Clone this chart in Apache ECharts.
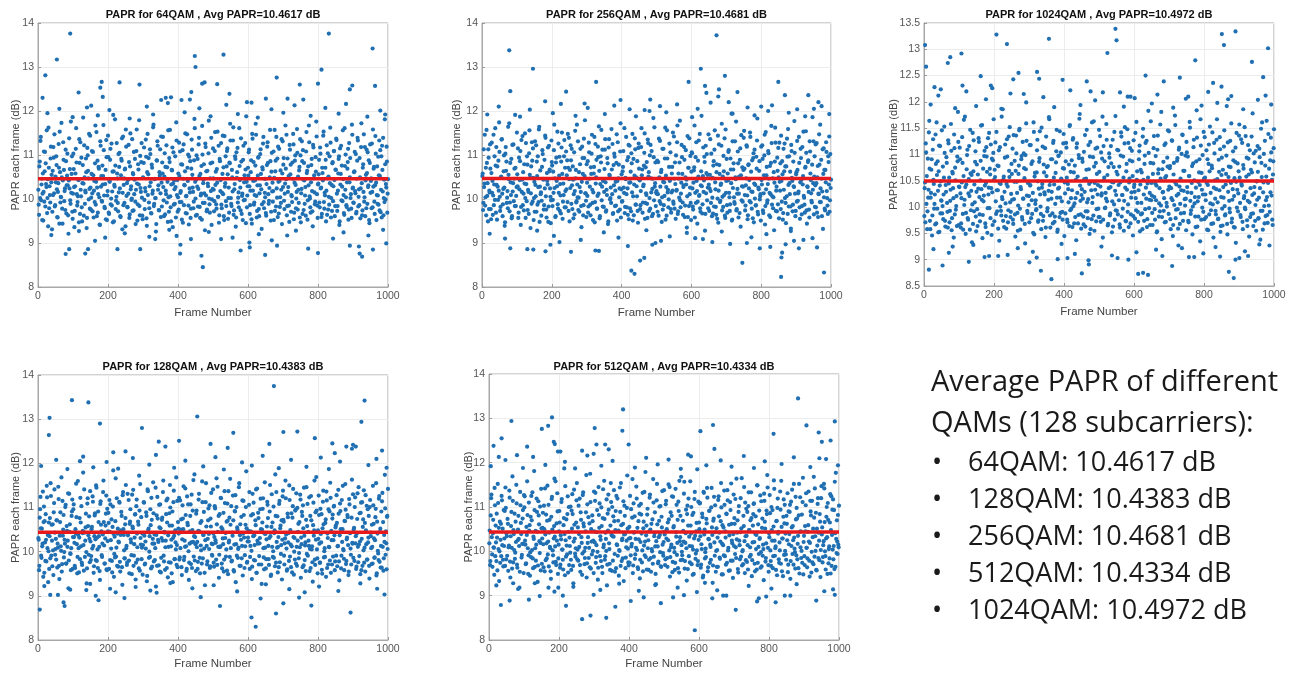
<!DOCTYPE html>
<html><head><meta charset="utf-8">
<script src="https://cdn.jsdelivr.net/npm/echarts@6/dist/echarts.min.js"></script>
<style>html,body{margin:0;padding:0;background:#fff}#c{width:1295px;height:673px}</style>
</head><body><div id="c"></div>
<script>
// ---------------- data ----------------
const frameTicks = [0, 200, 400, 600, 800, 1000];
const qamNames = ['64QAM', '256QAM', '1024QAM', '128QAM', '512QAM'];
const avgPapr = [10.4617, 10.4681, 10.4972, 10.4383, 10.4334];
const summaryTitle = ['Average PAPR of different', 'QAMs (128 subcarriers):'];
const summaryItems = ['64QAM: 10.4617 dB', '128QAM: 10.4383 dB', '256QAM: 10.4681 dB', '512QAM: 10.4334 dB', '1024QAM: 10.4972 dB'];

// PAPR (dB) of odd frames 1,3,...,999 and even frames 2,4,...,1000
const odd64 = [
10.21,9.64,10.85,11.32,9.97,10.46,10.12,9.51,11.08,10.63,9.83,10.34,11.56,10.02,9.38,10.71,10.29,9.92,11.19,10.55,9.71,10.09,10.94,11.47,9.86,
10.38,10.77,9.59,10.16,11.25,9.44,10.61,10.05,11.73,9.78,10.42,10.89,9.95,10.24,11.12,9.67,10.53,10.31,9.21,11.38,10.68,9.89,10.14,10.97,9.55,
11.03,10.27,9.73,10.58,11.61,10.11,9.93,10.44,9.47,10.82,11.29,10.06,9.81,10.36,11.85,9.62,10.49,10.19,10.92,9.34,11.16,10.64,9.99,10.23,11.44,
9.76,10.57,10.13,11.07,9.58,10.41,10.81,9.87,11.52,10.26,9.69,10.73,10.04,9.41,11.21,10.52,9.94,10.33,11.68,10.08,9.79,10.66,11.34,9.52,10.18,
10.95,9.66,10.39,11.14,10.01,9.85,10.62,11.91,9.49,10.28,10.76,9.96,11.27,10.47,9.72,10.15,11.05,9.61,10.54,10.87,9.31,11.42,10.32,9.91,10.69,
11.58,10.07,9.82,10.43,11.23,9.57,10.74,10.22,9.98,11.36,10.59,9.74,10.11,10.91,9.43,11.09,10.35,9.88,10.67,11.79,9.63,10.25,10.84,10.03,9.54,
10.48,11.17,9.77,10.17,10.96,9.39,11.48,10.56,9.92,10.29,11.02,9.68,10.78,10.12,11.63,9.84,10.45,10.02,9.26,10.88,11.31,10.21,9.75,10.61,11.13,
9.59,10.37,10.83,11.41,9.97,10.51,9.65,10.19,11.22,10.72,9.48,10.04,10.93,11.57,9.81,10.33,10.65,9.36,11.06,10.42,9.89,10.27,11.74,10.09,9.71,
10.58,11.28,9.93,10.14,10.79,9.53,11.11,10.46,9.86,10.31,11.49,10.06,9.67,10.71,11.01,9.42,10.24,10.86,9.78,11.35,10.55,10.16,9.94,11.82,10.39,
9.62,10.99,10.28,9.83,11.24,10.52,9.57,10.08,10.75,11.66,9.91,10.44,10.13,9.29,11.18,10.63,9.76,10.35,11.04,10.01,9.69,10.81,11.39,9.99,10.23,
10.47,9.72,11.09,10.32,9.88,10.68,11.53,10.05,9.46,10.91,10.18,11.27,9.79,10.57,10.11,9.61,11.43,10.36,9.95,10.74,11.15,9.55,10.26,10.83,11.71,
10.02,9.84,10.49,11.33,9.64,10.22,10.97,9.37,11.06,10.61,9.92,10.15,11.61,10.43,9.74,10.85,10.07,9.52,11.21,10.38,9.98,10.67,11.88,9.81,10.29,
10.53,11.12,9.66,10.19,10.88,9.44,11.37,10.41,9.87,10.09,10.76,11.46,9.58,10.31,10.94,9.77,10.13,11.02,10.57,9.32,10.72,11.26,9.93,10.46,10.04,
9.68,10.34,11.19,10.82,9.89,10.25,11.57,9.51,10.62,10.17,9.94,11.08,10.48,9.73,10.87,11.41,10.03,9.59,10.39,11.14,9.82,10.65,10.21,9.43,11.31,
10.78,9.96,10.12,11.67,10.45,9.63,10.92,10.27,9.85,11.23,10.56,9.71,10.06,10.83,11.48,9.54,10.37,10.99,9.79,10.16,11.05,10.51,9.91,10.73,11.36,
9.47,10.23,10.86,11.11,9.75,10.42,10.08,9.62,11.52,10.64,9.97,10.31,11.29,10.01,9.69,10.77,10.18,9.38,11.17,10.54,9.88,10.95,11.76,10.11,9.57,
10.35,10.89,9.81,11.03,10.26,9.66,10.59,11.44,9.93,10.14,10.71,9.49,11.22,10.47,9.76,10.05,10.97,11.62,9.58,10.32,10.81,9.95,11.09,10.43,9.84,
10.66,11.34,9.73,10.19,10.91,9.41,11.15,10.57,9.97,10.28,11.56,10.09,9.64,10.75,11.01,9.86,10.38,10.84,9.53,11.27,10.49,10.02,9.78,11.69,10.24,
9.92,10.61,11.07,10.13,9.67,10.46,11.39,9.83,10.22,10.93,9.56,11.18,10.36,9.74,10.79,11.47,10.04,9.61,10.55,11.12,9.89,10.27,10.88,9.45,11.24,
10.41,9.79,10.16,11.58,10.69,9.94,10.31,11.03,9.52,10.74,10.08,9.87,11.33,10.52,9.7,10.97,11.21,10.17,9.63,10.44,11.81,9.99,10.26,10.85,10.12
];
const even64 = [
9.87,10.74,10.02,11.41,10.33,9.52,10.58,10.16,9.94,11.07,10.81,10.27,9.68,10.45,11.62,9.79,10.09,10.92,10.38,9.31,10.64,11.18,10.13,9.83,10.51,
10.97,10.22,9.58,10.36,10.71,11.53,9.92,10.04,10.49,9.44,11.29,10.66,10.18,9.75,10.86,10.31,11.03,9.63,10.42,10.24,9.97,11.76,10.57,9.71,10.12,
10.68,9.36,10.29,11.14,10.83,9.85,10.06,10.43,11.36,9.66,10.21,10.94,9.49,10.77,10.35,11.22,9.89,10.15,10.61,9.57,10.99,10.47,11.48,9.78,10.26,
10.03,11.09,9.72,10.54,10.19,9.93,11.67,10.39,9.61,10.87,10.11,10.69,9.42,11.31,10.28,9.96,10.76,10.52,11.11,9.82,10.34,9.54,10.95,10.08,11.44,
9.69,10.41,10.89,9.88,11.26,10.17,9.47,10.63,10.32,11.81,9.77,10.05,10.58,9.91,11.02,10.73,10.24,9.59,10.91,11.38,10.14,9.86,10.47,10.67,9.38,
11.19,10.36,9.81,10.12,10.84,9.65,11.49,10.29,10.01,9.73,10.56,11.07,10.44,9.94,10.21,11.58,9.51,10.79,10.33,9.84,10.98,10.16,11.27,9.62,10.49,
10.82,9.98,10.25,11.35,9.56,10.61,10.09,10.93,9.79,11.13,10.38,9.67,10.71,10.19,11.69,9.89,10.46,10.02,9.43,10.87,11.21,10.31,9.74,10.53,10.13,
11.42,9.83,10.58,10.27,9.61,11.04,10.73,10.11,9.92,10.39,11.56,9.71,10.84,10.06,9.49,10.66,11.17,10.35,9.87,10.22,10.97,9.58,11.33,10.43,10.04,
9.76,10.52,11.08,10.18,9.93,10.78,9.46,11.24,10.32,10.63,9.68,10.07,11.47,10.41,9.85,10.96,10.15,9.57,10.69,11.12,10.26,9.79,10.88,11.61,10.01,
10.44,9.64,10.91,10.23,11.39,9.82,10.57,10.12,9.53,11.01,10.36,10.79,9.91,11.26,10.08,9.72,10.64,10.29,11.78,9.88,10.47,10.18,9.41,10.83,11.15,
10.21,9.95,11.52,10.62,9.78,10.37,10.05,11.21,9.63,10.86,10.43,9.87,10.14,11.44,10.72,9.52,10.28,10.97,9.84,11.09,10.56,10.02,9.69,10.81,11.33,
9.89,10.66,10.17,11.63,9.74,10.34,10.91,9.58,10.48,11.16,10.03,9.81,10.75,10.26,11.38,9.66,10.12,10.89,9.97,10.54,11.27,9.45,10.39,10.08,10.71,
11.06,10.29,9.86,10.61,9.54,11.48,10.19,10.84,9.92,10.42,11.71,10.07,9.73,10.53,10.95,9.61,10.31,11.13,10.22,9.88,10.67,11.41,9.79,10.14,10.46,
9.62,10.77,11.29,10.11,9.96,10.49,10.86,9.71,11.05,10.37,10.18,9.52,11.57,10.63,9.83,10.24,10.92,11.19,9.67,10.41,10.04,9.91,11.36,10.58,10.27,
10.93,9.77,10.35,10.69,11.46,9.84,10.16,10.52,9.48,11.12,10.78,10.09,9.93,10.46,11.24,9.69,10.87,10.32,10.01,11.59,9.76,10.21,10.65,9.58,10.99,
10.13,11.31,9.66,10.44,10.82,9.89,10.27,11.08,10.59,9.53,10.74,11.67,10.06,9.81,10.38,10.91,9.72,11.23,10.47,10.15,9.94,10.62,11.42,9.85,10.33,
10.56,9.92,11.17,10.24,9.59,10.71,10.42,11.53,9.78,10.08,10.89,10.19,9.64,11.04,10.51,9.87,10.36,11.28,10.02,9.73,10.84,10.29,11.09,9.61,10.67,
11.37,10.12,9.84,10.58,10.97,9.49,10.33,11.21,10.76,9.95,10.45,9.68,11.61,10.21,10.04,9.82,10.69,11.14,9.76,10.38,10.93,10.11,9.57,11.46,10.26,
9.91,10.63,10.18,11.02,9.71,10.87,11.33,10.05,9.86,10.49,10.24,11.72,9.63,10.71,10.16,9.94,11.18,10.42,9.79,10.59,11.06,10.31,9.52,10.82,10.14,
10.47,11.26,9.81,10.28,10.73,9.66,11.43,10.37,10.09,9.89,10.96,10.54,9.74,11.11,10.21,9.58,10.66,11.39,10.02,9.93,10.79,10.34,11.19,9.69,10.45
];
const extremes64 = [
[13,12.30],[21,12.81],[54,13.17],[92,13.76],[116,12.42],[140,12.08],[178,12.53],[182,12.66],[185,12.32],[233,12.65],[290,12.6],[352,12.25],
[365,12.3],[380,12.31],[410,12.25],[434,12.26],[438,12.43],[448,13.25],[450,13.0],[469,12.62],[476,12.65],[512,12.61],[530,13.28],[547,12.39],
[610,12.19],[651,12.28],[682,12.76],[713,12.28],[748,12.6],[758,12.26],[800,12.62],[810,12.94],[831,13.76],[891,12.49],[898,12.58],[956,13.42],[963,12.57],
[79,8.75],[89,8.86],[135,8.76],[143,8.86],[192,9.12],[227,8.86],[292,8.86],[335,9.09],[396,9.16],[406,8.76],[407,8.96],[467,8.71],[471,8.45],
[523,9.09],[579,8.83],[604,9.01],[605,8.9],[649,8.73],[683,8.94],[712,9.17],[772,8.87],[800,8.77],[891,8.94],[917,8.92],[919,8.76],[926,8.69],[957,8.85],[995,8.99]
];
const tail64 = [
[27,11.95],[61,12.05],[99,11.86],[152,12.12],[171,11.9],[204,12.02],[262,11.83],[311,12.1],[329,11.92],[371,12.18],[419,11.97],[461,12.06],[493,11.88],
[538,12.14],[571,11.93],[597,12.2],[628,11.85],[667,12.04],[701,11.96],[733,12.13],[779,11.89],[821,12.07],[859,11.94],[880,12.16],[941,11.87],[978,12.01],[992,11.92],
[38,9.18],[117,9.27],[163,9.05],[248,9.22],[318,9.14],[375,9.3],[437,9.09],[488,9.25],[556,9.12],[631,9.2],[668,9.06],[737,9.28],[843,9.1],[873,9.24],[944,9.17],[986,9.3]
];

const odd256 = [
10.52,9.75,11.13,10.35,9.85,10.71,11.57,10.07,9.49,10.94,10.19,11.24,9.77,10.59,10.14,9.64,11.46,10.33,9.98,10.76,11.18,9.53,10.28,10.87,11.74,
10.05,9.82,10.51,11.36,9.61,10.23,10.99,9.39,11.03,10.64,9.91,10.18,11.64,10.45,9.72,10.82,10.09,9.56,11.23,10.36,9.95,10.69,11.91,9.84,10.27,
10.56,11.15,9.69,10.22,10.86,9.41,11.34,10.44,9.86,10.12,10.79,11.49,9.57,10.34,10.97,9.75,10.16,11.04,10.55,9.34,10.74,11.29,9.94,10.48,10.02,
9.71,10.32,11.22,10.85,9.87,10.27,11.58,9.48,10.65,10.15,9.96,11.11,10.46,9.76,10.89,11.44,10.06,9.58,10.41,11.17,9.83,10.63,10.24,9.45,11.33,
10.76,9.98,10.14,11.69,10.47,9.61,10.94,10.29,9.88,11.26,10.53,9.73,10.08,10.85,11.51,9.55,10.35,10.97,9.81,10.18,11.08,10.54,9.93,10.71,11.39,
9.49,10.25,10.88,11.14,9.77,10.44,10.11,9.65,11.55,10.66,9.95,10.33,11.31,10.03,9.71,10.79,10.16,9.36,11.19,10.57,9.86,10.93,11.79,10.13,9.59,
10.37,10.86,9.83,11.06,10.28,9.63,10.57,11.46,9.91,10.15,10.73,9.47,11.25,10.49,9.78,10.07,10.95,11.65,9.56,10.34,10.83,9.97,11.12,10.41,9.82,
10.68,11.36,9.71,10.21,10.93,9.43,11.17,10.55,9.99,10.26,11.59,10.11,9.66,10.77,11.03,9.84,10.39,10.82,9.51,11.29,10.47,10.04,9.76,11.72,10.22,
9.94,10.63,11.09,10.14,9.68,10.48,11.41,9.81,10.24,10.95,9.54,11.21,10.38,9.72,10.81,11.48,10.06,9.63,10.53,11.13,9.87,10.29,10.86,9.46,11.26,
10.44,9.77,10.18,11.61,10.67,9.92,10.33,11.05,9.55,10.72,10.09,9.89,11.35,10.51,9.73,10.99,11.23,10.15,9.61,10.46,11.84,9.97,10.28,10.83,10.14,
10.12,9.71,10.84,11.37,9.95,10.28,10.61,9.48,11.14,10.39,9.86,10.07,11.62,10.53,9.62,10.92,10.21,9.99,11.26,10.44,9.77,10.15,10.73,11.51,9.89,
10.46,10.83,9.55,10.19,11.29,9.66,10.58,10.03,11.78,9.81,10.37,10.95,9.92,10.27,11.18,9.59,10.49,10.33,9.35,11.43,10.71,9.84,10.11,10.98,9.52,
11.06,10.24,9.76,10.65,11.67,10.14,9.91,10.41,9.44,10.87,11.33,10.09,9.79,10.31,11.89,9.67,10.52,10.16,10.96,9.28,11.21,10.59,9.97,10.26,11.47,
9.73,10.55,10.18,11.03,9.61,10.48,10.76,9.83,11.56,10.22,9.64,10.79,10.01,9.46,11.24,10.57,9.96,10.35,11.71,10.05,9.82,10.63,11.38,9.57,10.14,
10.91,9.69,10.42,11.11,10.04,9.88,10.67,11.94,9.53,10.25,10.81,9.93,11.31,10.45,9.74,10.12,11.08,9.58,10.51,10.89,9.37,11.45,10.29,9.94,10.66,
11.55,10.09,9.85,10.47,11.19,9.54,10.77,10.24,9.95,11.41,10.62,9.78,10.16,10.93,9.47,11.12,10.32,9.86,10.69,11.83,9.65,10.22,10.86,10.06,9.51,
10.43,11.22,9.74,10.13,10.99,9.42,11.52,10.54,9.91,10.34,11.04,9.63,10.75,10.11,11.66,9.87,10.47,10.04,9.29,10.85,11.28,10.19,9.72,10.64,11.16,
9.56,10.39,10.81,11.44,9.94,10.56,9.68,10.21,11.26,10.74,9.45,10.06,10.96,11.59,9.83,10.36,10.62,9.33,11.09,10.41,9.87,10.29,11.77,10.12,9.73,
10.61,11.32,9.96,10.17,10.82,9.55,11.14,10.43,9.84,10.33,11.53,10.03,9.69,10.73,11.05,9.44,10.27,10.88,9.76,11.31,10.58,10.13,9.92,11.86,10.36,
9.65,10.97,10.31,9.81,11.27,10.49,9.59,10.11,10.78,11.69,9.93,10.46,10.17,9.32,11.15,10.66,9.74,10.38,11.07,10.02,9.66,10.84,11.42,9.97,10.25
];
const even256 = [
10.58,9.91,10.27,11.46,10.04,9.63,10.82,10.36,11.13,9.77,10.15,10.69,9.54,11.28,10.41,10.08,9.86,10.97,11.61,9.69,10.32,10.74,9.98,10.19,11.07,
9.73,10.49,11.35,10.12,9.88,10.63,10.26,9.47,11.18,10.85,10.03,9.79,10.55,11.72,9.92,10.38,10.91,9.61,10.17,11.24,10.46,9.84,10.71,10.07,11.51,
10.29,9.57,10.94,10.43,11.09,9.82,10.16,11.43,10.61,9.74,10.35,10.02,11.27,9.95,10.78,10.21,9.66,11.56,10.48,10.13,9.89,10.87,11.15,9.52,10.39,
11.31,10.06,9.71,10.52,10.97,9.93,11.64,10.28,10.11,9.62,10.73,11.02,10.44,9.86,10.24,11.39,9.76,10.59,10.33,9.48,11.21,10.67,10.05,9.97,10.84,
9.84,10.62,11.11,10.25,9.59,10.83,10.41,11.53,9.78,10.14,10.96,10.34,9.67,11.17,10.57,9.94,10.09,11.34,10.71,9.81,10.22,10.88,11.48,9.73,10.45,
10.66,11.22,9.89,10.31,10.74,9.56,11.06,10.18,10.47,9.92,11.69,10.04,9.75,10.61,10.27,11.14,9.84,10.39,10.93,9.63,11.37,10.52,10.13,9.96,10.79,
10.07,9.69,11.28,10.46,9.87,10.72,11.03,10.21,9.52,10.58,11.41,9.93,10.35,10.89,9.78,11.19,10.12,10.64,9.61,10.97,11.57,10.28,9.83,10.43,10.16,
11.12,10.38,9.74,10.09,10.81,9.49,11.36,10.53,10.02,9.91,10.67,11.25,9.68,10.31,10.96,10.19,9.85,11.47,10.41,9.72,10.78,10.24,11.08,9.58,10.56,
9.95,10.73,10.26,11.61,9.82,10.45,10.11,10.88,9.64,11.23,10.37,9.79,10.62,11.04,10.15,9.51,10.91,10.33,11.38,9.87,10.49,10.06,9.73,11.16,10.69,
10.42,9.86,11.18,10.54,9.69,10.29,10.76,11.49,9.91,10.13,10.84,9.57,11.27,10.61,10.02,9.78,10.47,11.09,10.23,9.66,10.95,11.63,10.36,9.84,10.18,
10.87,10.11,9.62,10.49,11.32,9.89,10.66,10.04,9.76,11.14,10.38,10.92,9.53,10.27,11.56,10.15,9.81,10.73,10.41,11.06,9.69,10.58,10.19,9.94,11.42,
9.78,10.34,10.99,10.21,11.67,9.72,10.46,10.83,9.97,10.12,11.23,10.57,9.64,10.31,10.89,9.85,11.11,10.44,10.06,9.59,10.71,11.38,10.26,9.91,10.62,
11.04,9.83,10.37,10.72,9.58,10.95,11.29,10.18,9.94,10.51,10.07,11.48,9.71,10.63,10.29,9.88,11.17,10.42,10.84,9.66,10.13,11.02,10.55,9.79,10.33,
10.24,11.36,9.91,10.47,10.03,9.67,10.86,11.12,10.38,9.82,10.61,9.55,11.44,10.19,10.77,9.93,10.32,11.21,9.74,10.51,10.98,10.09,9.62,11.58,10.41,
9.86,10.58,11.07,10.14,9.73,10.92,10.36,9.51,11.31,10.67,10.04,9.89,10.49,11.76,9.77,10.23,10.81,10.12,9.68,11.15,10.54,9.97,10.72,10.28,11.39,
10.69,9.74,10.31,11.22,10.08,9.63,10.79,10.43,11.51,9.92,10.17,10.88,9.56,11.04,10.35,10.01,9.85,10.96,11.33,9.71,10.26,10.64,9.99,10.11,11.19,
10.33,10.91,9.68,10.54,11.46,9.84,10.22,10.73,9.97,11.09,10.46,10.14,9.59,10.82,11.27,10.06,9.79,10.61,10.37,11.62,9.73,10.28,10.94,9.88,10.49,
11.28,10.19,9.77,10.41,10.86,9.53,11.14,10.63,10.02,9.91,10.74,11.37,9.66,10.32,10.97,10.11,9.83,11.23,10.48,9.72,10.85,10.27,11.05,9.61,10.56,
9.94,10.66,10.13,11.41,9.81,10.38,10.93,9.65,11.18,10.52,10.07,9.87,10.71,11.54,9.74,10.29,10.84,10.16,9.58,11.08,10.43,9.96,10.78,10.21,11.31,
10.51,9.82,11.24,10.36,9.69,10.75,10.12,11.47,9.93,10.24,10.89,9.61,11.13,10.57,10.04,9.78,10.66,11.29,10.18,9.85,10.97,10.33,9.71,11.02,10.44
];
const extremes256 = [
[78,13.38],[81,12.45],[146,12.96],[181,12.22],[241,12.44],[294,12.17],[327,12.66],[397,12.25],[423,12.04],[480,12.0],[482,12.26],[510,12.11],
[592,12.66],[627,12.96],[639,12.57],[643,12.41],[672,13.72],[677,12.33],[679,12.49],[696,12.8],[707,12.2],[732,12.43],[800,12.1],[820,12.0],
[849,12.66],[868,12.36],[935,12.36],[951,12.05],[964,12.2],
[81,8.88],[130,8.86],[147,8.85],[182,8.81],[196,8.96],[222,9.02],[255,8.8],[325,8.83],[335,8.82],[418,8.93],[428,8.37],[437,8.3],[453,8.6],
[465,8.66],[488,8.96],[497,9.0],[513,9.05],[611,9.11],[660,9.02],[711,8.98],[746,8.55],[759,9.0],[796,8.88],[826,8.91],[857,8.23],[858,8.67],
[860,8.78],[870,8.97],[894,9.05],[908,8.88],[921,9.07],[960,8.9],[980,8.33]
];
const tail256 = [
[15,11.92],[48,12.1],[109,11.87],[137,12.03],[203,11.95],[226,12.16],[268,11.89],[303,12.07],[352,11.93],[379,12.12],[441,11.88],[466,12.02],[528,11.97],
[559,12.15],[602,11.86],[618,12.05],[655,12.19],[718,11.94],[761,12.08],[781,11.9],[831,12.13],[879,11.96],[903,12.04],[926,11.88],[973,12.11],[995,11.93],
[22,9.21],[66,9.1],[158,9.28],[206,9.16],[283,9.07],[349,9.24],[391,9.12],[471,9.29],[538,9.15],[587,9.23],[633,9.09],[687,9.26],[772,9.13],[815,9.2],[885,9.27],[947,9.11]
];

const odd1024 = [
9.83,10.47,11.21,10.06,9.58,10.92,10.33,11.64,9.74,10.18,10.71,9.46,11.09,10.52,9.97,10.24,11.38,9.69,10.61,10.87,9.52,11.17,10.41,9.88,10.13,
11.46,10.02,9.77,10.56,11.03,9.63,10.29,10.84,9.91,11.27,10.45,9.71,10.12,11.58,9.56,10.67,10.36,9.42,11.12,10.75,9.95,10.21,10.96,11.81,9.66,
10.38,10.91,9.61,10.17,11.33,9.87,10.59,10.04,11.72,9.49,10.43,10.99,9.79,10.26,11.16,9.57,10.64,10.31,9.33,11.41,10.68,9.92,10.09,11.06,9.54,
10.81,9.64,10.35,11.24,9.86,10.51,11.55,10.14,9.41,10.73,10.22,11.07,9.69,10.46,10.96,9.51,11.31,10.37,9.98,10.62,11.19,9.47,10.28,10.89,11.67,
9.73,10.57,10.11,11.43,9.92,10.32,10.78,9.36,11.14,10.44,9.84,10.19,11.86,10.53,9.62,10.94,10.07,9.59,11.29,10.39,9.94,10.69,11.52,9.81,10.25,
10.63,11.11,9.68,10.15,10.88,9.44,11.36,10.48,9.89,10.03,10.79,11.49,9.57,10.34,10.97,9.76,10.16,11.02,10.55,9.31,10.72,11.26,9.93,10.46,10.04,
9.71,10.41,11.18,10.82,9.87,10.27,11.61,9.48,10.65,10.13,9.96,11.08,10.49,9.75,10.86,11.44,10.01,9.58,10.37,11.15,9.83,10.66,10.24,9.43,11.34,
10.76,9.98,10.14,11.71,10.42,9.61,10.91,10.29,9.88,11.22,10.56,9.72,10.06,10.85,11.47,9.53,10.35,10.98,9.81,10.18,11.04,10.52,9.91,10.74,11.39,
9.45,10.26,10.87,11.13,9.76,10.44,10.09,9.64,11.56,10.67,9.97,10.32,11.28,10.02,9.69,10.79,10.17,9.37,11.21,10.58,9.85,10.93,11.77,10.12,9.59,
10.34,10.86,9.82,11.05,10.29,9.63,10.54,11.47,9.92,10.15,10.72,9.49,11.24,10.48,9.77,10.08,10.95,11.63,9.55,10.33,10.84,9.96,11.13,10.42,9.81,
10.67,11.35,9.72,10.22,10.92,9.42,11.16,10.56,9.98,10.27,11.58,10.11,9.65,10.76,11.02,9.84,10.38,10.83,9.52,11.28,10.47,10.05,9.76,11.73,10.23,
9.93,10.62,11.08,10.13,9.67,10.47,11.42,9.82,10.23,10.96,9.55,11.21,10.37,9.73,10.82,11.48,10.05,9.62,10.54,11.12,9.86,10.28,10.87,9.46,11.27,
10.43,9.78,10.17,11.62,10.68,9.91,10.32,11.06,9.54,10.71,10.08,9.88,11.34,10.52,9.74,10.98,11.22,10.16,9.62,10.45,11.83,9.98,10.27,10.84,10.13,
10.22,9.66,10.83,11.35,9.96,10.45,10.13,9.52,11.09,10.64,9.82,10.36,11.57,10.03,9.39,10.72,10.29,9.93,11.18,10.56,9.72,10.08,10.94,11.46,9.87,
10.39,10.78,9.58,10.17,11.26,9.45,10.62,10.04,11.74,9.79,10.43,10.88,9.96,10.25,11.13,9.68,10.54,10.32,9.22,11.37,10.69,9.89,10.15,10.98,9.56,
11.04,10.28,9.74,10.59,11.62,10.12,9.94,10.46,9.48,10.83,11.28,10.07,9.82,10.37,11.84,9.63,10.48,10.19,10.91,9.35,11.17,10.65,9.99,10.24,11.43,
9.77,10.56,10.13,11.08,9.57,10.42,10.82,9.86,11.53,10.27,9.68,10.74,10.05,9.42,11.22,10.51,9.93,10.34,11.67,10.09,9.78,10.67,11.33,9.53,10.19,
10.94,9.65,10.38,11.15,10.02,9.86,10.63,11.92,9.48,10.29,10.77,9.97,11.26,10.46,9.71,10.14,11.06,9.62,10.55,10.86,9.32,11.41,10.33,9.92,10.68,
11.57,10.08,9.81,10.44,11.22,9.58,10.73,10.21,9.99,11.35,10.58,9.75,10.12,10.92,9.44,11.08,10.36,9.87,10.66,11.78,9.64,10.26,10.85,10.04,9.55,
10.49,11.16,9.78,10.18,10.95,9.38,11.49,10.57,9.93,10.28,11.01,9.69,10.79,10.13,11.64,9.85,10.46,10.03,9.27,10.89,11.32,10.22,9.76,10.62,11.12
];
const even1024 = [
10.36,9.71,11.04,10.59,9.92,10.18,11.42,10.73,9.58,10.27,10.91,9.84,11.29,10.44,10.06,9.67,10.82,11.61,9.97,10.31,10.68,9.53,11.16,10.49,10.12,
9.88,10.77,10.24,11.53,9.74,10.42,10.95,10.08,9.61,11.21,10.56,9.93,10.33,11.07,9.79,10.64,10.17,11.38,9.86,10.51,10.02,9.64,10.87,11.24,10.39,
11.13,10.26,9.69,10.47,10.84,9.57,11.66,10.14,10.38,9.89,10.72,11.09,9.76,10.53,10.21,11.47,9.94,10.61,10.05,9.68,11.27,10.43,10.86,9.82,10.29,
9.96,10.62,11.31,10.19,9.73,10.88,10.34,11.56,9.85,10.11,10.97,10.41,9.62,11.14,10.67,9.98,10.24,11.41,10.73,9.79,10.36,10.92,9.66,11.03,10.52,
10.71,11.23,9.87,10.32,10.79,9.59,11.08,10.46,10.01,9.93,11.72,10.15,9.74,10.58,10.29,11.19,9.83,10.44,10.96,9.71,11.34,10.57,10.09,9.91,10.82,
10.14,9.76,11.37,10.48,9.86,10.69,11.02,10.27,9.55,10.63,11.46,9.97,10.38,10.91,9.81,11.24,10.16,10.74,9.68,10.99,11.59,10.22,9.89,10.47,10.21,
11.18,10.42,9.79,10.13,10.87,9.51,11.43,10.58,10.06,9.94,10.66,11.28,9.72,10.35,10.93,10.24,9.87,11.51,10.44,9.74,10.81,10.28,11.12,9.61,10.59,
9.92,10.78,10.31,11.67,9.84,10.49,10.16,10.91,9.69,11.26,10.43,9.82,10.65,11.06,10.18,9.57,10.97,10.37,11.44,9.89,10.54,10.11,9.76,11.21,10.73,
10.47,9.88,11.22,10.56,9.71,10.34,10.81,11.54,9.94,10.17,10.89,9.62,11.31,10.66,10.07,9.81,10.52,11.13,10.27,9.69,10.99,11.68,10.41,9.86,10.23,
10.92,10.16,9.67,10.53,11.37,9.92,10.71,10.09,9.79,11.18,10.44,10.96,9.58,10.32,11.61,10.19,9.84,10.77,10.46,11.11,9.73,10.63,10.24,9.97,11.47,
9.81,10.39,11.04,10.26,11.72,9.76,10.51,10.87,9.99,10.16,11.28,10.61,9.68,10.36,10.94,9.88,11.16,10.48,10.11,9.63,10.76,11.43,10.31,9.94,10.67,
11.09,9.86,10.42,10.77,9.61,10.98,11.34,10.23,9.97,10.56,10.12,11.52,9.74,10.68,10.33,9.91,11.22,10.47,10.89,9.69,10.18,11.07,10.59,9.83,10.38,
10.29,11.41,9.94,10.52,10.08,9.72,10.91,11.17,10.43,9.86,10.66,9.58,11.49,10.24,10.82,9.96,10.37,11.26,9.77,10.56,11.03,10.14,9.66,11.63,10.46,
9.89,10.63,11.12,10.19,9.76,10.97,10.41,9.54,11.36,10.72,10.07,9.92,10.54,11.81,9.81,10.28,10.86,10.17,9.71,11.21,10.59,10.01,10.77,10.33,11.44,
10.74,9.77,10.36,11.27,10.13,9.66,10.84,10.48,11.56,9.95,10.22,10.93,9.59,11.09,10.39,10.06,9.88,11.01,11.38,9.74,10.31,10.69,10.03,10.16,11.24,
10.38,10.96,9.71,10.59,11.51,9.87,10.27,10.78,10.01,11.14,10.51,10.19,9.62,10.87,11.32,10.11,9.82,10.66,10.42,11.67,9.76,10.33,10.99,9.91,10.54,
11.33,10.24,9.81,10.46,10.91,9.56,11.19,10.68,10.07,9.94,10.79,11.42,9.69,10.37,11.02,10.16,9.86,11.28,10.53,9.77,10.9,10.32,11.1,9.64,10.61,
9.97,10.71,10.18,11.46,9.84,10.43,10.98,9.68,11.23,10.57,10.12,9.9,10.76,11.59,9.78,10.34,10.89,10.21,9.61,11.13,10.48,9.99,10.83,10.26,11.36,
10.56,9.85,11.29,10.41,9.72,10.8,10.17,11.52,9.96,10.29,10.94,9.64,11.18,10.62,10.09,9.81,10.71,11.34,10.23,9.88,11.02,10.38,9.74,11.07,10.49,
10.14,10.67,9.79,11.11,10.36,9.93,10.84,11.61,9.57,10.47,10.02,11.26,9.83,10.58,10.19,9.7,11.39,10.73,9.91,10.28,11.04,10.52,9.66,10.87,11.48
];
const extremes1024 = [
[3,13.08],[6,12.67],[30,12.28],[48,12.24],[68,12.74],[75,12.85],[107,12.92],[110,12.31],[162,12.49],[191,12.31],[195,12.26],[207,13.28],
[237,13.1],[255,12.43],[270,12.55],[285,12.15],[323,12.57],[329,12.44],[357,13.2],[396,12.42],[465,12.39],[476,12.2],[524,12.93],[547,13.39],
[550,13.17],[560,12.18],[582,12.1],[590,12.1],[633,12.5],[685,12.39],[731,12.46],[755,12.1],[775,12.79],[826,12.36],[850,12.29],[851,13.29],
[857,13.08],[869,12.05],[890,13.34],[937,12.76],[969,12.47],[976,12.12],[983,13.02],
[14,8.81],[53,8.89],[82,9.25],[128,8.96],[186,9.07],[212,9.07],[239,9.09],[301,8.95],[322,9.04],[334,8.79],[364,8.63],[382,9.01],[410,9.03],
[451,8.74],[470,8.99],[471,8.91],[553,9.03],[584,9.0],[607,9.14],[612,8.73],[626,8.75],[640,8.71],[681,9.07],[709,8.88],[757,9.05],[772,9.05],
[846,9.06],[871,8.77],[885,8.65],[890,9.0],[901,9.03],[926,9.07]
];
const tail1024 = [
[19,11.95],[41,12.12],[89,11.88],[121,12.2],[149,11.92],[177,12.05],[221,11.87],[247,12.16],[292,11.99],[341,12.09],[372,11.9],[418,12.22],[447,11.94],
[489,12.03],[511,12.18],[571,11.91],[602,12.07],[651,11.97],[667,12.14],[712,11.89],[748,12.06],[793,11.93],[812,12.19],[838,11.98],[878,12.11],[912,11.86],[954,12.04],[992,11.95],
[27,9.2],[71,9.13],[141,9.28],[173,9.05],[268,9.22],[311,9.15],[393,9.3],[431,9.11],[507,9.25],[537,9.08],[663,9.19],[727,9.27],[798,9.12],[833,9.24],[917,9.16],[958,9.29]
];

const odd128 = [
10.31,9.58,10.77,11.24,9.91,10.52,10.18,9.43,11.02,10.69,9.79,10.27,11.49,10.08,9.31,10.66,10.35,9.85,11.26,10.61,9.67,10.03,10.89,11.41,9.93,
10.29,10.71,9.64,10.09,11.19,9.38,10.67,10.12,11.68,9.72,10.36,10.83,9.99,10.18,11.06,9.73,10.47,10.25,9.17,11.31,10.62,9.95,10.08,10.91,9.61,
10.96,10.33,9.68,10.51,11.54,10.17,9.88,10.38,9.53,10.76,11.22,10.12,9.75,10.42,11.79,9.57,10.43,10.25,10.86,9.28,11.09,10.58,9.93,10.29,11.37,
9.81,10.51,10.07,11.13,9.52,10.35,10.87,9.81,11.45,10.32,9.63,10.67,10.11,9.36,11.14,10.46,9.88,10.39,11.61,10.14,9.73,10.59,11.27,9.58,10.24,
10.88,9.61,10.45,11.07,10.07,9.79,10.56,11.84,9.43,10.34,10.69,9.89,11.21,10.41,9.66,10.21,11.11,9.55,10.48,10.81,9.25,11.35,10.38,9.85,10.62,
11.51,10.13,9.76,10.37,11.17,9.51,10.68,10.28,9.92,11.29,10.53,9.68,10.17,10.84,9.37,11.03,10.41,9.82,10.61,11.72,9.57,10.31,10.78,10.09,9.48,
10.42,11.11,9.71,10.23,10.89,9.33,11.41,10.49,9.86,10.35,10.96,9.62,10.72,10.18,11.57,9.78,10.39,10.08,9.21,10.82,11.24,10.27,9.69,10.55,11.07,
9.53,10.31,10.77,11.35,9.91,10.45,9.59,10.25,11.16,10.66,9.42,10.11,10.87,11.51,9.75,10.27,10.59,9.31,11.12,10.36,9.83,10.21,11.68,10.15,9.65,
10.52,11.22,9.87,10.08,10.73,9.47,11.05,10.51,9.81,10.25,11.43,10.12,9.61,10.65,11.07,9.36,10.18,10.81,9.72,11.29,10.49,10.22,9.89,11.75,10.33,
9.56,10.93,10.22,9.77,11.18,10.46,9.51,10.14,10.69,11.59,9.85,10.38,10.07,9.24,11.12,10.57,9.71,10.29,10.98,10.06,9.63,10.75,11.33,9.93,10.17,
10.41,9.66,11.03,10.26,9.82,10.62,11.47,10.11,9.41,10.85,10.12,11.21,9.73,10.51,10.17,9.55,11.37,10.31,9.89,10.68,11.09,9.49,10.21,10.77,11.65,
10.08,9.78,10.43,11.27,9.58,10.16,10.91,9.31,11.01,10.55,9.86,10.09,11.55,10.37,9.68,10.79,10.13,9.46,11.15,10.32,9.92,10.61,11.82,9.75,10.23,
10.47,11.06,9.61,10.13,10.82,9.38,11.31,10.35,9.81,10.15,10.71,11.41,9.52,10.25,10.88,9.71,10.19,10.96,10.51,9.27,10.66,11.21,9.87,10.41,10.09,
9.62,10.28,11.13,10.76,9.83,10.31,11.51,9.45,10.56,10.11,9.88,11.02,10.42,9.67,10.81,11.35,10.09,9.53,10.33,11.08,9.76,10.59,10.15,9.37,11.25,
10.72,9.91,10.19,11.61,10.39,9.57,10.86,10.21,9.79,11.17,10.49,9.65,10.12,10.77,11.42,9.48,10.31,10.93,9.73,10.11,10.99,10.45,9.85,10.67,11.29,
9.41,10.17,10.81,11.05,9.69,10.36,10.14,9.56,11.46,10.58,9.91,10.25,11.23,10.06,9.63,10.71,10.12,9.32,11.11,10.48,9.82,10.89,11.69,10.05,9.51,
10.29,10.83,9.75,10.97,10.21,9.59,10.53,11.38,9.87,10.08,10.65,9.43,11.16,10.41,9.71,10.11,10.91,11.56,9.52,10.26,10.75,9.89,11.02,10.37,9.78,
10.59,11.28,9.67,10.13,10.86,9.35,11.09,10.51,9.91,10.22,11.49,10.03,9.58,10.69,10.95,9.79,10.32,10.78,9.47,11.19,10.42,10.07,9.71,11.63,10.18,
9.86,10.54,11.01,10.19,9.61,10.41,11.32,9.76,10.16,10.87,9.49,11.11,10.29,9.68,10.73,11.39,10.09,9.55,10.48,11.04,9.82,10.21,10.81,9.39,11.17,
10.35,9.72,10.11,11.49,10.63,9.86,10.26,10.97,9.46,10.68,10.02,9.81,11.26,10.45,9.64,10.91,11.14,10.11,9.57,10.38,11.74,9.93,10.19,10.79,10.06
];
const even128 = [
10.27,9.68,10.96,10.53,9.86,10.12,11.36,10.67,9.52,10.21,10.85,9.78,11.23,10.38,10.01,9.61,10.76,11.55,9.91,10.25,10.62,9.47,11.1,10.43,10.06,
9.82,10.71,10.18,11.47,9.68,10.36,10.89,10.02,9.55,11.15,10.5,9.87,10.27,11.01,9.73,10.58,10.11,11.32,9.8,10.45,9.96,9.58,10.81,11.18,10.33,
11.07,10.2,9.63,10.41,10.78,9.51,11.6,10.08,10.32,9.83,10.66,11.03,9.7,10.47,10.15,11.41,9.88,10.55,9.99,9.62,11.21,10.37,10.8,9.76,10.23,
9.9,10.56,11.25,10.13,9.67,10.82,10.28,11.5,9.79,10.05,10.91,10.35,9.56,11.08,10.61,9.92,10.18,11.35,10.67,9.73,10.3,10.86,9.6,10.97,10.46,
10.65,11.17,9.81,10.26,10.73,9.53,11.02,10.4,9.95,9.87,11.66,10.09,9.68,10.52,10.23,11.13,9.77,10.38,10.9,9.65,11.28,10.51,10.03,9.85,10.76,
10.08,9.7,11.31,10.42,9.8,10.63,10.96,10.21,9.49,10.57,11.4,9.91,10.32,10.85,9.75,11.18,10.1,10.68,9.62,10.93,11.53,10.16,9.83,10.41,10.15,
11.12,10.36,9.73,10.07,10.81,9.45,11.37,10.52,10,9.88,10.6,11.22,9.66,10.29,10.87,10.18,9.81,11.45,10.38,9.68,10.75,10.22,11.06,9.55,10.53,
9.86,10.72,10.25,11.61,9.78,10.43,10.1,10.85,9.63,11.2,10.37,9.76,10.59,11,10.12,9.51,10.91,10.31,11.38,9.83,10.48,10.05,9.7,11.15,10.67,
10.41,9.82,11.16,10.5,9.65,10.28,10.75,11.48,9.88,10.11,10.83,9.56,11.25,10.6,10.01,9.75,10.46,11.07,10.21,9.63,10.93,11.62,10.35,9.8,10.17,
10.86,10.1,9.61,10.47,11.31,9.86,10.65,10.03,9.73,11.12,10.38,10.9,9.52,10.26,11.55,10.13,9.78,10.71,10.4,11.05,9.67,10.57,10.18,9.91,11.41,
9.75,10.33,10.98,10.2,11.66,9.7,10.45,10.81,9.93,10.1,11.22,10.55,9.62,10.3,10.88,9.82,11.1,10.42,10.05,9.57,10.7,11.37,10.25,9.88,10.61,
11.03,9.8,10.36,10.71,9.55,10.92,11.28,10.17,9.91,10.5,10.06,11.46,9.68,10.62,10.27,9.85,11.16,10.41,10.83,9.63,10.12,11.01,10.53,9.77,10.32,
10.23,11.35,9.88,10.46,10.02,9.66,10.85,11.11,10.37,9.8,10.6,9.52,11.43,10.18,10.76,9.9,10.31,11.2,9.71,10.5,10.97,10.08,9.6,11.57,10.4,
9.83,10.57,11.06,10.13,9.7,10.91,10.35,9.48,11.3,10.66,10.01,9.86,10.48,11.75,9.75,10.22,10.8,10.11,9.65,11.15,10.53,9.95,10.71,10.27,11.38,
10.68,9.71,10.3,11.21,10.07,9.6,10.78,10.42,11.5,9.89,10.16,10.87,9.53,11.03,10.33,10,9.82,10.95,11.32,9.68,10.25,10.63,9.97,10.1,11.18,
10.32,10.9,9.65,10.53,11.45,9.81,10.21,10.72,9.95,11.08,10.45,10.13,9.56,10.81,11.26,10.05,9.76,10.6,10.36,11.61,9.7,10.27,10.93,9.85,10.48,
11.27,10.18,9.75,10.4,10.85,9.5,11.13,10.62,10.01,9.88,10.73,11.36,9.63,10.31,10.96,10.1,9.8,11.22,10.47,9.71,10.84,10.26,11.04,9.58,10.55,
9.91,10.65,10.12,11.4,9.78,10.37,10.92,9.62,11.17,10.51,10.06,9.84,10.7,11.53,9.72,10.28,10.83,10.15,9.55,11.07,10.42,9.93,10.77,10.2,11.3,
10.5,9.79,11.23,10.35,9.66,10.74,10.11,11.46,9.9,10.23,10.88,9.58,11.12,10.56,10.03,9.75,10.65,11.28,10.17,9.82,10.96,10.32,9.68,11.01,10.43,
10.08,10.61,9.73,11.05,10.3,9.87,10.78,11.55,9.51,10.41,9.96,11.2,9.77,10.52,10.13,9.64,11.33,10.67,9.85,10.22,10.98,10.46,9.6,10.81,11.42
];
const extremes128 = [
[31,12.64],[33,13.03],[97,13.43],[144,13.38],[177,12.9],[297,12.8],[345,12.49],[364,12.38],[403,12.51],[455,13.06],[493,12.44],[542,12.35],
[558,12.69],[661,12.44],[674,13.75],[701,12.71],[741,12.72],[791,12.57],[841,12.45],[848,12.23],[881,12.38],[897,12.33],[900,12.42],[908,12.38],
[924,12.94],[933,13.42],[983,12.29],[250,12.27],[120,12.05],[215,12.25],
[5,8.69],[35,9.02],[57,9.02],[73,8.85],[76,8.77],[138,9.13],[165,9.0],[173,8.9],[206,9.16],[247,8.95],[339,9.07],[465,8.97],[520,8.77],
[610,8.51],[622,8.3],[636,8.94],[680,8.6],[701,8.83],[746,8.96],[762,9.08],[781,8.78],[893,8.62],[990,9.03]
];
const tail128 = [
[9,11.94],[52,12.08],[84,11.87],[129,12.15],[158,11.91],[196,12.03],[229,11.88],[271,12.12],[318,11.97],[337,12.19],[389,11.9],[421,12.06],[472,11.93],
[507,12.14],[531,11.86],[583,12.02],[611,11.95],[642,12.17],[688,11.89],[723,12.08],[767,11.92],[808,12.13],[831,11.87],[863,12.04],[944,11.96],[967,12.1],[996,11.9],
[18,9.22],[92,9.14],[149,9.27],[222,9.08],[279,9.2],[321,9.12],[378,9.29],[441,9.17],[502,9.24],[569,9.1],[651,9.26],[718,9.15],[803,9.21],[858,9.11],[921,9.28],[969,9.16]
];

const odd512 = [
10.18,9.69,10.81,11.28,9.93,10.41,10.09,9.47,11.04,10.58,9.78,10.31,11.52,10.05,9.33,10.67,10.26,9.89,11.15,10.51,9.66,10.12,10.91,11.44,9.82,
10.34,10.73,9.56,10.13,11.21,9.41,10.57,10.08,11.69,9.75,10.39,10.85,9.97,10.21,11.08,9.63,10.49,10.28,9.18,11.34,10.64,9.86,10.17,10.93,9.51,
10.99,10.24,9.71,10.55,11.58,10.07,9.91,10.47,9.45,10.78,11.25,10.03,9.84,10.33,11.81,9.65,10.46,10.15,10.89,9.31,11.13,10.61,9.96,10.19,11.41,
9.72,10.53,10.16,11.03,9.55,10.38,10.83,9.84,11.48,10.22,9.66,10.71,10.07,9.38,11.18,10.49,9.91,10.29,11.64,10.11,9.76,10.63,11.31,9.49,10.15,
10.91,9.63,10.36,11.11,10.04,9.81,10.59,11.87,9.46,10.25,10.72,9.93,11.24,10.44,9.69,10.12,11.01,9.58,10.51,10.84,9.28,11.39,10.29,9.88,10.65,
11.54,10.04,9.79,10.39,11.19,9.54,10.71,10.19,9.95,11.33,10.56,9.71,10.08,10.88,9.41,11.06,10.32,9.85,10.63,11.75,9.61,10.22,10.81,10.01,9.51,
10.45,11.14,9.74,10.14,10.93,9.36,11.45,10.53,9.89,10.26,10.99,9.65,10.75,10.09,11.59,9.81,10.42,10.01,9.23,10.85,11.28,10.18,9.72,10.58,11.11,
9.56,10.34,10.79,11.38,9.94,10.48,9.62,10.16,11.19,10.69,9.45,10.01,10.89,11.54,9.78,10.29,10.62,9.33,11.03,10.39,9.86,10.24,11.71,10.06,9.68,
10.55,11.25,9.91,10.11,10.76,9.51,11.08,10.43,9.83,10.28,11.46,10.03,9.64,10.68,11.03,9.39,10.21,10.83,9.75,11.32,10.52,10.13,9.91,11.79,10.36,
9.59,10.96,10.25,9.81,11.21,10.49,9.54,10.05,10.72,11.63,9.88,10.41,10.11,9.26,11.15,10.61,9.73,10.32,11.01,9.98,9.66,10.78,11.36,9.96,10.21,
10.44,9.69,11.06,10.29,9.85,10.65,11.51,10.02,9.43,10.88,10.15,11.24,9.76,10.54,10.08,9.58,11.41,10.33,9.92,10.71,11.12,9.52,10.23,10.8,11.68,
9.99,9.81,10.46,11.3,9.61,10.19,10.94,9.34,11.03,10.58,9.89,10.12,11.58,10.4,9.71,10.82,10.04,9.49,11.18,10.35,9.95,10.64,11.85,9.78,10.26,
10.5,11.09,9.63,10.16,10.85,9.41,11.34,10.38,9.84,10.06,10.73,11.43,9.55,10.28,10.91,9.74,10.1,10.99,10.54,9.29,10.69,11.23,9.9,10.43,10.01,
9.65,10.31,11.16,10.79,9.86,10.22,11.54,9.48,10.59,10.14,9.91,11.05,10.45,9.7,10.84,11.38,10.02,9.56,10.36,11.11,9.79,10.62,10.18,9.4,11.28,
10.75,9.94,10.09,11.64,10.42,9.6,10.89,10.24,9.82,11.2,10.52,9.68,10.03,10.8,11.45,9.51,10.34,10.96,9.76,10.14,11.02,10.48,9.88,10.7,11.33,
9.44,10.2,10.84,11.08,9.72,10.39,10.05,9.59,11.49,10.61,9.94,10.28,11.26,9.98,9.66,10.74,10.15,9.35,11.14,10.51,9.85,10.92,11.72,10.08,9.54,
10.32,10.86,9.78,11,10.24,9.62,10.56,11.41,9.9,10.11,10.68,9.46,11.19,10.44,9.74,10.02,10.94,11.59,9.55,10.29,10.78,9.92,11.05,10.4,9.81,
10.62,11.31,9.7,10.16,10.89,9.38,11.12,10.54,9.94,10.25,11.52,10.06,9.61,10.72,10.98,9.82,10.35,10.81,9.5,11.22,10.45,10.01,9.74,11.66,10.21,
9.89,10.57,11.04,10.08,9.64,10.44,11.35,9.79,10.19,10.9,9.52,11.14,10.32,9.71,10.76,11.42,10.01,9.58,10.51,11.07,9.85,10.24,10.84,9.42,11.2,
10.38,9.75,10.14,11.52,10.66,9.89,10.29,11,9.49,10.71,10.05,9.84,11.29,10.48,9.67,10.94,11.17,10.12,9.6,10.41,11.77,9.96,10.22,10.82,10.09
];
const even512 = [
10.47,9.78,11.2,10.32,9.65,10.71,10.08,11.43,9.89,10.2,10.85,9.57,11.09,10.53,10,9.74,10.62,11.25,10.14,9.81,10.93,10.29,9.67,10.98,10.4,
9.9,10.62,10.09,11.37,9.77,10.34,10.89,9.61,11.14,10.48,10.03,9.83,10.67,11.5,9.7,10.25,10.8,10.12,9.54,11.04,10.39,9.92,10.74,10.17,11.27,
11.24,10.15,9.73,10.37,10.82,9.49,11.1,10.59,9.98,9.87,10.7,11.33,9.62,10.28,10.93,10.07,9.79,11.19,10.44,9.68,10.81,10.23,11.01,9.57,10.52,
10.29,10.87,9.64,10.5,11.42,9.8,10.18,10.69,9.93,11.05,10.42,10.1,9.55,10.78,11.23,10.02,9.75,10.57,10.33,11.58,9.69,10.24,10.9,9.84,10.45,
10.65,9.7,10.27,11.18,10.04,9.59,10.75,10.39,11.47,9.88,10.13,10.84,9.52,11,10.31,9.97,9.81,10.92,11.29,9.67,10.22,10.6,9.95,10.07,11.15,
9.82,10.54,11.03,10.1,9.69,10.88,10.32,9.47,11.27,10.63,10,9.85,10.45,11.72,9.73,10.19,10.77,10.08,9.64,11.11,10.5,9.93,10.68,10.24,11.35,
10.2,11.32,9.87,10.43,9.99,9.63,10.82,11.08,10.34,9.78,10.57,9.51,11.4,10.15,10.73,9.89,10.28,11.17,9.7,10.47,10.94,10.05,9.58,11.54,10.37,
11,9.79,10.33,10.68,9.54,10.91,11.25,10.14,9.9,10.47,10.03,11.44,9.67,10.59,10.25,9.84,11.13,10.38,10.8,9.62,10.09,10.98,10.51,9.75,10.29,
9.74,10.3,10.95,10.17,11.63,9.68,10.42,10.79,9.93,10.08,11.19,10.53,9.6,10.27,10.85,9.81,11.07,10.4,10.02,9.55,10.67,11.34,10.22,9.87,10.58,
10.83,10.07,9.58,10.45,11.28,9.85,10.62,10,9.72,11.1,10.34,10.88,9.49,10.23,11.52,10.11,9.77,10.69,10.37,11.02,9.65,10.54,10.15,9.9,11.38,
10.38,9.82,11.14,10.5,9.65,10.25,10.72,11.45,9.87,10.09,10.8,9.53,11.23,10.57,9.98,9.74,10.43,11.05,10.19,9.62,10.91,11.59,10.32,9.8,10.14,
9.91,10.69,10.22,11.57,9.78,10.41,10.07,10.84,9.6,11.19,10.33,9.75,10.58,11,10.11,9.47,10.87,10.29,11.34,9.83,10.45,10.02,9.69,11.12,10.65,
11.08,10.34,9.7,10.05,10.77,9.45,11.32,10.49,9.98,9.87,10.63,11.21,9.64,10.27,10.92,10.15,9.81,11.43,10.37,9.68,10.74,10.2,11.04,9.54,10.52,
10.03,9.65,11.24,10.42,9.83,10.68,10.99,10.17,9.48,10.54,11.37,9.89,10.31,10.85,9.74,11.15,10.08,10.6,9.57,10.93,11.53,10.24,9.79,10.39,10.12,
10.62,11.18,9.85,10.27,10.7,9.52,11.02,10.14,10.43,9.88,11.65,10,9.71,10.57,10.23,11.1,9.8,10.35,10.89,9.59,11.33,10.48,10.09,9.92,10.75,
9.8,10.58,11.07,10.21,9.55,10.79,10.37,11.49,9.74,10.1,10.92,10.3,9.63,11.13,10.53,9.9,10.05,11.3,10.67,9.77,10.18,10.84,11.44,9.69,10.41,
11.27,10.02,9.67,10.48,10.93,9.89,11.6,10.24,10.07,9.58,10.69,10.98,10.4,9.82,10.2,11.35,9.72,10.55,10.29,9.44,11.17,10.63,10.01,9.93,10.8,
10.25,9.53,10.9,10.39,11.05,9.78,10.12,11.39,10.57,9.7,10.31,9.98,11.23,9.91,10.74,10.17,9.62,11.52,10.44,10.09,9.85,10.83,11.11,9.48,10.35,
9.69,10.45,11.31,10.08,9.84,10.59,10.22,9.43,11.14,10.81,9.99,9.75,10.51,11.68,9.88,10.34,10.87,9.57,10.13,11.2,10.42,9.8,10.67,10.03,11.47,
10.54,9.87,10.23,11.42,10,9.59,10.78,10.32,11.09,9.73,10.11,10.65,9.5,11.24,10.37,10.04,9.82,10.93,11.57,9.65,10.28,10.7,9.94,10.15,11.03
];
const extremes512 = [
[13,12.38],[28,12.13],[36,12.55],[64,12.94],[80,12.17],[109,12.36],[151,12.76],[169,12.83],[180,13.02],[185,12.47],[188,12.42],[197,12.25],
[204,12.25],[266,12.27],[299,12.2],[302,12.78],[307,12.41],[332,12.41],[342,12.3],[381,12.72],[383,13.2],[399,12.41],[577,12.14],[604,12.71],
[640,12.85],[644,12.31],[813,12.65],[883,13.45],[907,12.84],[942,12.68],[944,12.1],[951,12.47],[976,12.5],[988,12.93],
[34,8.79],[59,8.89],[69,9.28],[114,8.91],[145,8.99],[170,9.18],[198,9.18],[211,9.0],[220,8.77],[266,8.47],[290,8.55],[299,9.02],[335,8.5],
[361,8.75],[405,8.88],[442,8.96],[491,8.83],[526,8.96],[557,9.01],[588,8.22],[594,9.08],[638,8.94],[669,9.0],[678,9.0],[705,8.68],[766,8.87],
[771,8.94],[792,8.98],[819,8.85],[845,9.0],[861,9.0],[935,8.89],[983,9.14],[988,9.02]
];
const tail512 = [
[5,11.92],[47,12.06],[97,11.88],[126,12.13],[161,11.95],[217,12.02],[246,11.87],[281,12.16],[321,11.93],[353,12.04],[417,11.89],[449,12.11],[482,11.96],
[513,12.07],[548,11.86],[569,12.18],[621,11.94],[662,12.05],[693,11.91],[728,12.15],[757,11.88],[788,12.03],[836,11.97],[871,12.12],[918,11.9],[963,12.08],[997,11.94],
[21,9.23],[83,9.15],[131,9.28],[187,9.09],[241,9.2],[318,9.13],[372,9.27],[428,9.11],[475,9.24],[539,9.18],[617,9.29],[652,9.12],[742,9.22],[807,9.16],[879,9.26],[958,9.1]
];

// ---------------- layout ----------------
const oddSets = [odd64, odd256, odd1024, odd128, odd512];
const evenSets = [even64, even256, even1024, even128, even512];
const extremeSets = [extremes64, extremes256, extremes1024, extremes128, extremes512];
const tailSets = [tail64, tail256, tail1024, tail128, tail512];
const panels = [
  {left: 38,  top: 23,  width: 350, height: 264, yMin: 8,   yMax: 14,   yStep: 1,   yGap: 17, xGap: 20, titleY: 9},
  {left: 482, top: 23,  width: 349, height: 264, yMin: 8,   yMax: 14,   yStep: 1,   yGap: 20, xGap: 20, titleY: 9},
  {left: 924, top: 23,  width: 350, height: 263, yMin: 8.5, yMax: 13.5, yStep: 0.5, yGap: 25, xGap: 20, titleY: 9},
  {left: 38,  top: 375, width: 350, height: 265, yMin: 8,   yMax: 14,   yStep: 1,   yGap: 17, xGap: 18, titleY: 361},
  {left: 489, top: 374, width: 350, height: 266, yMin: 8,   yMax: 14,   yStep: 1,   yGap: 15, xGap: 18, titleY: 361}
];

const FONT = '"Liberation Sans", Arial, Helvetica, sans-serif';
const grid = [], xAxis = [], yAxis = [], series = [], title = [];
panels.forEach((p, k) => {
  grid.push({left: p.left, top: p.top, width: p.width, height: p.height, show: true,
             borderColor: '#a8a8a8', borderWidth: 1, backgroundColor: '#fff', containLabel: false});
  xAxis.push({gridIndex: k, type: 'value', min: frameTicks[0], max: frameTicks[frameTicks.length - 1],
    interval: frameTicks[1] - frameTicks[0],
    name: 'Frame Number', nameLocation: 'middle', nameGap: p.xGap, nameMoveOverlap: false,
    nameTextStyle: {fontFamily: FONT, fontSize: 11.5, color: '#444'},
    axisLine: {show: true, lineStyle: {color: '#a8a8a8', width: 1}},
    axisTick: {show: true, inside: true, length: 3, lineStyle: {color: '#999'}},
    axisLabel: {fontFamily: FONT, fontSize: 10.5, color: '#555', margin: 4, formatter: v => String(v)},
    splitLine: {show: true, lineStyle: {color: '#ececec', width: 1}}});
  yAxis.push({gridIndex: k, type: 'value', min: p.yMin, max: p.yMax, interval: p.yStep,
    name: 'PAPR each frame (dB)', nameLocation: 'middle', nameGap: p.yGap, nameRotate: 90, nameMoveOverlap: false,
    nameTextStyle: {fontFamily: FONT, fontSize: 11, color: '#444'},
    axisLine: {show: true, lineStyle: {color: '#a8a8a8', width: 1}},
    axisTick: {show: true, inside: true, length: 3, lineStyle: {color: '#999'}},
    axisLabel: {fontFamily: FONT, fontSize: 10.5, color: '#555', margin: 4, formatter: v => String(v)},
    splitLine: {show: true, lineStyle: {color: '#ececec', width: 1}}});
  const pts = oddSets[k].map((v, i) => [2 * i + 1, v])
    .concat(evenSets[k].map((v, i) => [2 * i + 2, v]))
    .concat(extremeSets[k], tailSets[k]);
  series.push({type: 'scatter', xAxisIndex: k, yAxisIndex: k, data: pts, symbolSize: 4.2,
    itemStyle: {color: '#1f6fb2', opacity: 1}, silent: true, z: 2, animation: false, large: false});
  series.push({type: 'line', xAxisIndex: k, yAxisIndex: k, symbol: 'none',
    data: [[frameTicks[0], avgPapr[k]], [frameTicks[frameTicks.length - 1], avgPapr[k]]],
    lineStyle: {color: '#e8191c', width: 3.5}, z: 3, animation: false, silent: true});
  title.push({text: 'PAPR for ' + qamNames[k] + ' , Avg PAPR=' + avgPapr[k].toFixed(4) + ' dB',
    left: p.left + p.width / 2, top: p.titleY, textAlign: 'center', padding: 0,
    textStyle: {fontFamily: FONT, fontSize: 11, fontWeight: 'bold', color: '#111'}});
});

// summary text block
const graphic = [];
const TFONT = '"Open Sans", "Noto Sans", sans-serif';
const headY = [389, 430];
summaryTitle.forEach((t, i) => graphic.push({type: 'text', left: 931, top: headY[i] - 21,
  style: {text: t, font: '29px ' + TFONT, fill: '#1a1a1a'}}));
const itemY = [469, 506, 543, 580, 617];
summaryItems.forEach((t, i) => {
  graphic.push({type: 'text', left: 932, top: itemY[i] - 19, style: {text: '\u2022', font: '27px ' + TFONT, fill: '#1a1a1a'}});
  graphic.push({type: 'text', left: 968, top: itemY[i] - 19, style: {text: t, font: '27px ' + TFONT, fill: '#1a1a1a'}});
});

const chart = echarts.init(document.getElementById('c'), null, {renderer: 'canvas'});
chart.setOption({animation: false, backgroundColor: '#fff', title, grid, xAxis, yAxis, series, graphic});
</script></body></html>
